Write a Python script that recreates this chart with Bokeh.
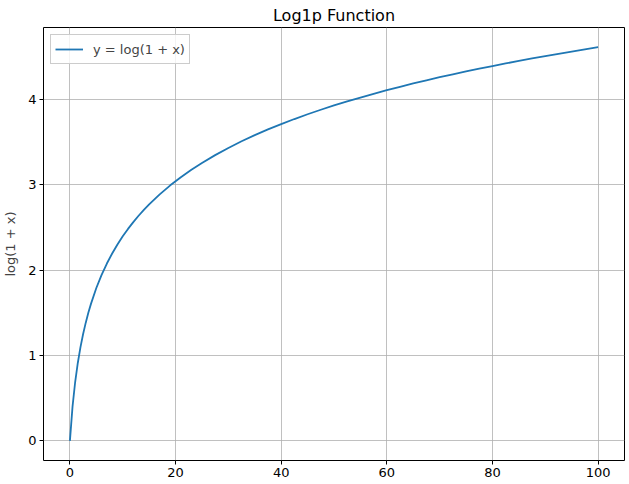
from bokeh.plotting import figure
from bokeh.models import FixedTicker, ColumnDataSource
from bokeh.embed import file_html
from bokeh.resources import INLINE

x_vals = [0, 0.5, 1, 1.5, 2, 2.5, 3, 3.5, 4, 5, 6, 7, 8, 9, 10, 11, 12, 13, 14, 15,
          17, 19, 21, 23, 25, 27.5, 30, 32.5, 35, 37.5, 40, 42.5, 45, 47.5, 50, 52.5,
          55, 57.5, 60, 62.5, 65, 67.5, 70, 72.5, 75, 77.5, 80, 82.5, 85, 87.5, 90,
          92.5, 95, 97.5, 100]
y_vals = [0.0, 0.405, 0.693, 0.916, 1.099, 1.253, 1.386, 1.504, 1.609, 1.792, 1.946,
          2.079, 2.197, 2.303, 2.398, 2.485, 2.565, 2.639, 2.708, 2.773,
          2.890, 2.996, 3.091, 3.178, 3.258, 3.350, 3.434, 3.512, 3.584, 3.651,
          3.714, 3.773, 3.829, 3.882, 3.932, 3.979, 4.025, 4.069, 4.111, 4.151,
          4.190, 4.227, 4.263, 4.297, 4.331, 4.363, 4.394, 4.425, 4.454, 4.483,
          4.511, 4.538, 4.564, 4.590, 4.615]
x_ticks = [0, 20, 40, 60, 80, 100]
y_ticks = [0, 1, 2, 3, 4]

FONT = "DejaVu Sans"

src = ColumnDataSource(dict(x=x_vals, y=y_vals))

p = figure(frame_width=581, frame_height=433, output_backend="svg", toolbar_location=None,
           x_range=(-5, 105), y_range=(-0.23, 4.846), title="Log1p Function",
           min_border_left=36, min_border_right=4, min_border_top=0, min_border_bottom=0)

p.line("x", "y", source=src, line_color="#1f77b4", line_width=1.8,
       legend_label="y = log(1 + x)")

p.title.align = "center"
p.title.text_font = FONT
p.title.text_font_size = "16px"
p.title.text_font_style = "normal"
p.title.text_color = "black"
p.title.offset = 0
p.title.standoff = 6

p.outline_line_color = "black"
p.outline_line_width = 1

for ax in (p.xaxis[0], p.yaxis[0]):
    ax.major_label_text_font = FONT
    ax.major_label_text_font_size = "13px"
    ax.major_label_text_color = "black"
    ax.major_tick_out = 4
    ax.major_tick_in = 0
    ax.minor_tick_out = 0
    ax.minor_tick_in = 0
    ax.axis_line_color = None
    ax.major_tick_line_color = "black"
    ax.major_label_standoff = 3

p.xaxis.ticker = FixedTicker(ticks=x_ticks)
p.yaxis.ticker = FixedTicker(ticks=y_ticks)
p.yaxis.axis_label = "log(1 + x)"
p.yaxis.axis_label_text_font = FONT
p.yaxis.axis_label_text_font_size = "13px"
p.yaxis.axis_label_text_font_style = "normal"
p.yaxis.axis_label_standoff = 7

p.grid.grid_line_color = "#b0b0b0"
p.grid.grid_line_width = 0.8
p.xgrid.ticker = FixedTicker(ticks=x_ticks)
p.ygrid.ticker = FixedTicker(ticks=y_ticks)

p.legend.location = "top_left"
p.legend.label_text_font = FONT
p.legend.label_text_font_size = "13px"
p.legend.label_text_font_style = "normal"
p.legend.border_line_color = "#cccccc"
p.legend.border_line_alpha = 1
p.legend.background_fill_alpha = 0.8
p.legend.margin = 7
p.legend.padding = 4
p.legend.spacing = 0
p.legend.glyph_width = 28
p.legend.label_standoff = 10

open("out.html", "w").write(file_html(p, INLINE))
